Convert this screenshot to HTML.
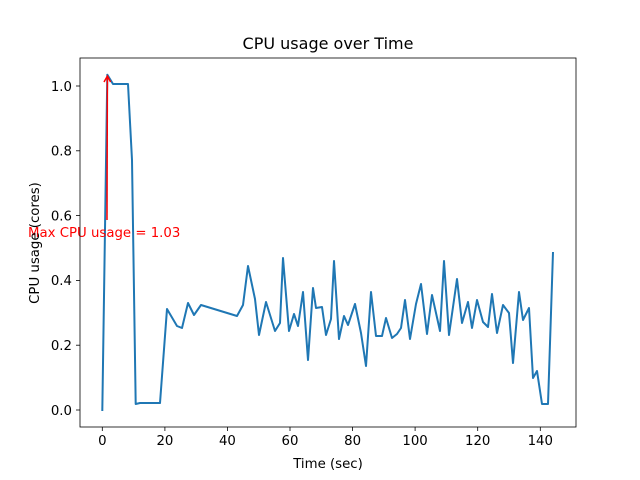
<!DOCTYPE html>
<html><head><style>body{margin:0;background:#fff}svg{display:block}</style></head><body>
<svg width="640" height="480" xmlns="http://www.w3.org/2000/svg" font-family="'DejaVu Sans', 'Liberation Sans', sans-serif">
<rect width="640" height="480" fill="#fff"/>
<polyline fill="none" stroke="#1f77b4" stroke-width="2" stroke-linejoin="round" points="102.3,411 107.3,74.7 113,84 120,84 128,84 132,160 135.7,404 140,403 160,403 167,309 177,326 182,328 188,303 194,315 201,305 237,316 243,305 248,266 255,299 259,335 266,302 275,331 280,323 283,258 289,331 294,314 298,326 303,292 308,360 313,288 316,308 322,307 326,335 331,319 334,261 339,339 344,316 348,325 355,304 361,333 366,366 371,292 376,336 382,336 386,318 392,338 397,334 401,328 405,300 410,339 416,304 421,284 427,334 432,295 440,331 444,261 449,335 457,279 462,323 468,302 472,328 477,300 483,322 488,327 492,294 497,333 503,305 509,313 513,363 519,292 523,320 529,308 533,378 537,371 542,404 548,404 553,252"/>
<line x1="107" y1="220" x2="107.4" y2="77" stroke="red" stroke-width="1.5"/>
<polyline points="104,82 107.4,76 110.6,82" fill="none" stroke="red" stroke-width="1.5"/>
<text x="28" y="237" font-size="13.3" fill="red">Max CPU usage = 1.03</text>
<rect x="80" y="58" width="496" height="369" fill="none" stroke="#000" stroke-width="0.8"/>
<g stroke="#000" stroke-width="0.8">
<line x1="102.3" y1="427" x2="102.3" y2="431"/><line x1="164.9" y1="427" x2="164.9" y2="431"/><line x1="227.4" y1="427" x2="227.4" y2="431"/><line x1="290" y1="427" x2="290" y2="431"/><line x1="352.6" y1="427" x2="352.6" y2="431"/><line x1="415.1" y1="427" x2="415.1" y2="431"/><line x1="477.7" y1="427" x2="477.7" y2="431"/><line x1="540.3" y1="427" x2="540.3" y2="431"/>
<line x1="76" y1="410" x2="80" y2="410"/><line x1="76" y1="345.2" x2="80" y2="345.2"/><line x1="76" y1="280.4" x2="80" y2="280.4"/><line x1="76" y1="215.6" x2="80" y2="215.6"/><line x1="76" y1="150.8" x2="80" y2="150.8"/><line x1="76" y1="86" x2="80" y2="86"/>
</g>
<g font-size="13.3" text-anchor="middle">
<text x="102.3" y="445">0</text><text x="164.9" y="445">20</text><text x="227.4" y="445">40</text><text x="290" y="445">60</text><text x="352.6" y="445">80</text><text x="415.1" y="445">100</text><text x="477.7" y="445">120</text><text x="540.3" y="445">140</text>
</g>
<g font-size="13.3" text-anchor="end">
<text x="72" y="415">0.0</text><text x="72" y="350">0.2</text><text x="72" y="285">0.4</text><text x="72" y="220.5">0.6</text><text x="72" y="155.5">0.8</text><text x="72" y="91">1.0</text>
</g>
<text x="328" y="468" font-size="13.3" text-anchor="middle">Time (sec)</text>
<text transform="translate(39,243) rotate(-90)" font-size="13.3" text-anchor="middle">CPU usage (cores)</text>
<text x="328" y="49" font-size="16" text-anchor="middle">CPU usage over Time</text>
</svg>
</body></html>
